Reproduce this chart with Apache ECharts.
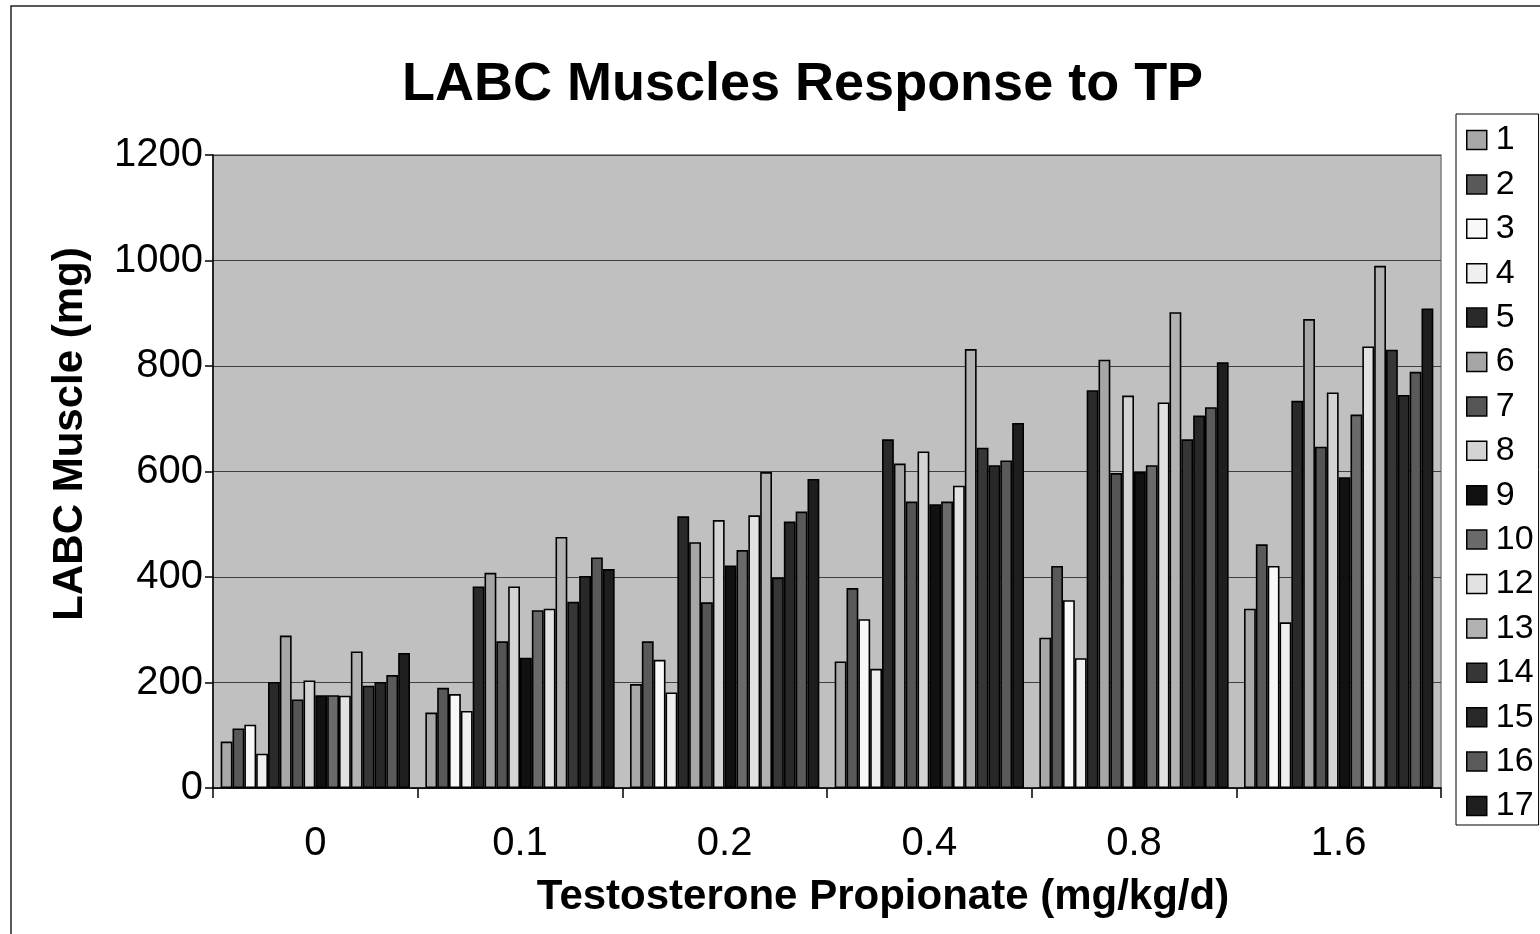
<!DOCTYPE html>
<html>
<head>
<meta charset="utf-8">
<script src="https://cdn.jsdelivr.net/npm/echarts@6/dist/echarts.min.js"></script>
<style>
html,body{margin:0;padding:0;background:#fff;}
#chart{width:1540px;height:934px;}
</style>
</head>
<body>
<div id="chart"></div>
<script>
const categories = ['0', '0.1', '0.2', '0.4', '0.8', '1.6'];
const yTicks = [0, 200, 400, 600, 800, 1000, 1200];

const s1  = [88, 143, 197, 240, 285, 340];
const s2  = [113, 190, 278, 379, 421, 462];
const s3  = [120, 178, 243, 320, 356, 421];
const s4  = [65, 146, 181, 226, 246, 314];
const s5  = [201, 382, 515, 661, 754, 734];
const s6  = [289, 408, 466, 615, 812, 889];
const s7  = [168, 278, 352, 543, 597, 647];
const s8  = [204, 382, 508, 638, 744, 750];
const s9  = [176, 247, 422, 538, 599, 589];
const s10 = [176, 337, 451, 543, 612, 708];
const s12 = [175, 340, 517, 573, 731, 837];
const s13 = [259, 476, 599, 832, 902, 990];
const s14 = [194, 353, 399, 645, 661, 831];
const s15 = [201, 402, 505, 612, 706, 745];
const s16 = [214, 437, 524, 621, 722, 789];
const s17 = [256, 415, 586, 692, 807, 909];

const seriesNames = ['1','2','3','4','5','6','7','8','9','10','12','13','14','15','16','17'];
const seriesValues = [s1,s2,s3,s4,s5,s6,s7,s8,s9,s10,s12,s13,s14,s15,s16,s17];
const seriesColors = ['#a8a8a8','#595959','#f8f8f8','#efefef','#2a2a2a','#a6a6a6','#555555','#d4d4d4',
                      '#111111','#6a6a6a','#e2e2e2','#b2b2b2','#363636','#282828','#5a5a5a','#1e1e1e'];

const FONT = "'Liberation Sans', Arial, sans-serif";

const chart = echarts.init(document.getElementById('chart'), null, {renderer: 'canvas'});

const series = seriesNames.map((name, i) => ({
  name: name,
  type: 'bar',
  data: seriesValues[i],
  barGap: '0%',
  barCategoryGap: '7.5%',
  itemStyle: { color: seriesColors[i], borderColor: '#000', borderWidth: 1.6 },
  emphasis: { disabled: true },
  animation: false
}));

chart.setOption({
  animation: false,
  backgroundColor: '#fff',
  title: {
    text: 'LABC Muscles Response to TP',
    left: 402,
    top: 58,
    padding: 0,
    textStyle: { fontFamily: FONT, fontSize: 54, fontWeight: 'bold', color: '#000' }
  },
  graphic: [{
    type: 'rect',
    shape: { x: 11, y: 6, width: 1600, height: 1000 },
    style: { fill: 'none', stroke: '#222', lineWidth: 1.5 },
    z: -10, silent: true
  }],
  legend: {
    orient: 'vertical',
    left: 1456,
    top: 114,
    data: seriesNames,
    icon: 'rect',
    itemWidth: 20,
    itemHeight: 19,
    itemGap: 10.4,
    padding: [9, 5, 2, 10],
    borderColor: '#000',
    borderWidth: 1,
    backgroundColor: '#fff',
    itemStyle: { borderColor: '#000', borderWidth: 1.5 },
    textStyle: { fontFamily: FONT, fontSize: 34, color: '#000', padding: [0, 0, 0, 4] }
  },
  grid: {
    left: 213, top: 155, right: 99, bottom: 146,
    show: true, backgroundColor: '#c0c0c0', borderColor: '#808080', borderWidth: 1.5,
    containLabel: false
  },
  xAxis: {
    type: 'category',
    data: categories,
    name: 'Testosterone Propionate (mg/kg/d)',
    nameLocation: 'middle',
    nameGap: 88,
    nameTextStyle: { fontFamily: FONT, fontSize: 42, fontWeight: 'bold', color: '#000', padding: [0, 0, 0, 112] },
    axisLine: { lineStyle: { color: '#000', width: 1.5 } },
    axisTick: { show: true, alignWithLabel: false, length: 10, lineStyle: { color: '#000', width: 1.5 } },
    axisLabel: { fontFamily: FONT, fontSize: 40, color: '#000', margin: 36 },
    splitLine: { show: false }
  },
  yAxis: {
    type: 'value',
    min: yTicks[0],
    max: yTicks[yTicks.length - 1],
    interval: 200,
    name: 'LABC Muscle (mg)',
    nameLocation: 'middle',
    nameRotate: 90,
    nameGap: 122,
    nameTextStyle: { fontFamily: FONT, fontSize: 42, fontWeight: 'bold', color: '#000', padding: [0, 0, 0, 75] },
    axisLine: { show: true, lineStyle: { color: '#000', width: 1.5 } },
    axisTick: { show: true, length: 8, lineStyle: { color: '#000', width: 1.5 } },
    axisLabel: { fontFamily: FONT, fontSize: 40, color: '#000', margin: 10, formatter: (v) => String(v) },
    splitLine: { show: true, lineStyle: { color: '#404040', width: 1.2 } }
  },
  series: series
});
</script>
</body>
</html>
